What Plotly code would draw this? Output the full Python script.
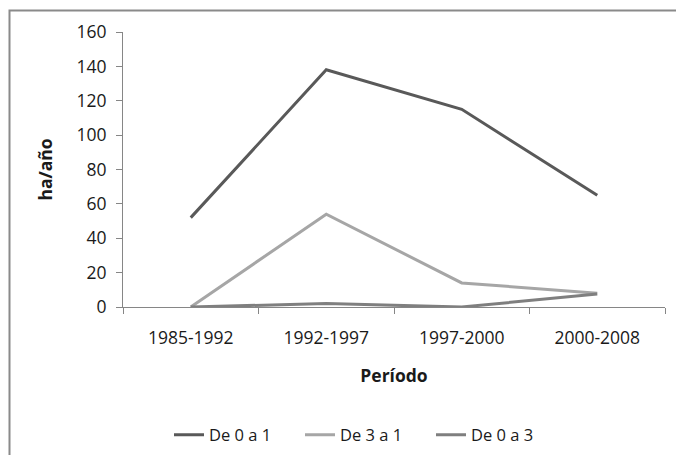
import plotly.graph_objects as go

# Periods on the horizontal axis
periodos = ["1985-1992", "1992-1997", "1997-2000", "2000-2008"]

# Rate of change (ha/año) for each transition
de_0_a_1 = [52, 138, 115, 65]
de_3_a_1 = [0, 54, 14, 8]
de_0_a_3 = [0, 2, 0, 7.5]

y_ticks = [0, 20, 40, 60, 80, 100, 120, 140, 160]

series = [
    ("De 0 a 1", de_0_a_1, "#595959"),
    ("De 3 a 1", de_3_a_1, "#a6a6a6"),
    ("De 0 a 3", de_0_a_3, "#7f7f7f"),
]

FONT = "Open Sans"
TEXT = "#1a1a1a"
AXIS = "#868686"

fig = go.Figure()
for name, vals, color in series:
    fig.add_trace(go.Scatter(
        x=periodos, y=vals, name=name, mode="lines",
        line=dict(color=color, width=3),
    ))

W, H = 676, 455
ml, mr, mt, mb = 123, 11, 32, 148
pw, ph = W - ml - mr, H - mt - mb

# Outer chart frame (left and top edges)
fx = (9.5 - ml) / pw
fy = 1 + (mt - 10.5) / ph
fig.add_shape(type="path", xref="paper", yref="paper",
              path=f"M {fx} -1 L {fx} {fy} L 1.2 {fy}",
              line=dict(color="#8a8a8a", width=2))

fig.update_layout(
    width=W, height=H,
    margin=dict(l=ml, r=mr, t=mt, b=mb, autoexpand=False),
    paper_bgcolor="white", plot_bgcolor="white",
    font=dict(family=FONT, color=TEXT, size=17),
    showlegend=True,
    legend=dict(
        orientation="h", x=(169 - ml) / pw, xanchor="left",
        y=-(435 - 307) / ph, yanchor="middle",
        font=dict(size=16.5, family=FONT, color=TEXT),
        entrywidth=86, entrywidthmode="pixels",
        itemwidth=30, tracegroupgap=0,
    ),
    xaxis=dict(
        type="category", range=[-0.5, 3.5],
        showline=True, linecolor=AXIS, linewidth=1,
        ticks="outside", ticklen=6, tickcolor=AXIS, tickson="boundaries",
        showgrid=False, zeroline=False,
        ticklabelstandoff=15,
        tickfont=dict(size=17.5, family=FONT, color=TEXT),
        title=dict(text="<b>Período</b>", font=dict(size=17.5, family=FONT, color=TEXT),
                   standoff=21),
    ),
    yaxis=dict(
        range=[0, 160], tickvals=y_ticks,
        showline=True, linecolor=AXIS, linewidth=1,
        ticks="outside", ticklen=6, tickcolor=AXIS,
        showgrid=False, zeroline=False,
        ticklabelstandoff=6,
        tickfont=dict(size=17.5, family=FONT, color=TEXT),
        title=dict(text="<b>ha/año</b>", font=dict(size=17.5, family=FONT, color=TEXT),
                   standoff=19),
    ),
)

fig.write_html("out.html")
